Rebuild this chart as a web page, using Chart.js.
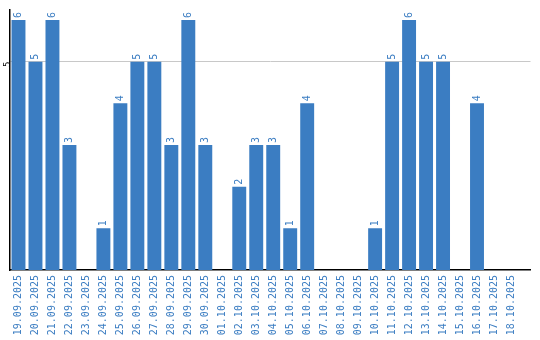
<!DOCTYPE html>
<html>
<head>
<meta charset="utf-8">
<script src="https://cdn.jsdelivr.net/npm/chart.js@4"></script>
<style>
  html, body { margin: 0; padding: 0; background: #fff; }
  #wrap { width: 540px; height: 340px; }
</style>
</head>
<body>
<div id="wrap"><canvas id="chart" width="540" height="340"></canvas></div>
<script>
const days = [
    '19.09.2025', '20.09.2025', '21.09.2025', '22.09.2025', '23.09.2025', '24.09.2025',
    '25.09.2025', '26.09.2025', '27.09.2025', '28.09.2025', '29.09.2025', '30.09.2025',
    '01.10.2025', '02.10.2025', '03.10.2025', '04.10.2025', '05.10.2025', '06.10.2025',
    '07.10.2025', '08.10.2025', '09.10.2025', '10.10.2025', '11.10.2025', '12.10.2025',
    '13.10.2025', '14.10.2025', '15.10.2025', '16.10.2025', '17.10.2025', '18.10.2025'
];
const counts = [6, 5, 6, 3, 0, 1, 4, 5, 5, 3, 6, 3, 0, 2, 3, 3, 1, 4, 0, 0, 0, 1, 5, 6, 5, 5, 0, 4, 0, 0];
const yTicks = [5];

const BLUE = '#3b7dc2';
const MONO = '"DejaVu Sans Mono", monospace';

// value labels on top of each bar, rotated like the axis labels
const barLabels = {
    id: 'barLabels',
    afterDatasetsDraw(chart) {
        const ctx = chart.ctx;
        const meta = chart.getDatasetMeta(0);
        ctx.save();
        ctx.font = '10px ' + MONO;
        ctx.fillStyle = BLUE;
        meta.data.forEach((bar, i) => {
            const v = counts[i];
            if (!v) return;
            ctx.save();
            ctx.translate(bar.x, bar.y - 2);
            ctx.rotate(-Math.PI / 2);
            ctx.textAlign = 'left';
            ctx.textBaseline = 'middle';
            ctx.fillText(String(v), 0, 0);
            ctx.restore();
        });
        ctx.restore();
    }
};

new Chart(document.getElementById('chart'), {
    type: 'bar',
    data: {
        datasets: [{
            data: counts.map((v, i) => ({ x: i, y: v })),
            backgroundColor: BLUE,
            borderWidth: 0,
            categoryPercentage: 1,
            barPercentage: 0.82
        }]
    },
    plugins: [barLabels],
    options: {
        responsive: false,
        animation: false,
        layout: { padding: { top: 10, right: 9.5, left: 0, bottom: 0 } },
        plugins: { legend: { display: false }, tooltip: { enabled: false } },
        scales: {
            x: {
                type: 'linear',
                offset: false,
                min: -0.5,
                max: 30.15,
                afterBuildTicks: scale => { scale.ticks = days.map((_, i) => ({ value: i })); },
                afterFit: scale => { scale.height = 70; scale.paddingLeft = 0; scale.paddingRight = 0; },
                grid: { display: false, drawTicks: false },
                border: { display: true, color: '#000', width: 1.5 },
                ticks: {
                    autoSkip: false,
                    minRotation: 90,
                    maxRotation: 90,
                    padding: 5,
                    color: BLUE,
                    font: { family: MONO, size: 10 },
                    callback: v => days[v]
                }
            },
            y: {
                min: 0,
                max: 6.24,
                afterBuildTicks: scale => { scale.ticks = yTicks.map(v => ({ value: v })); },
                afterFit: scale => { scale.width = 10; },
                grid: { color: '#c8c8c8', lineWidth: 1, drawTicks: false },
                border: { display: true, color: '#000', width: 1.5 },
                ticks: {
                    minRotation: 90,
                    maxRotation: 90,
                    padding: 2,
                    color: '#000',
                    font: { family: MONO, size: 9 }
                }
            }
        }
    }
});
</script>
</body>
</html>
